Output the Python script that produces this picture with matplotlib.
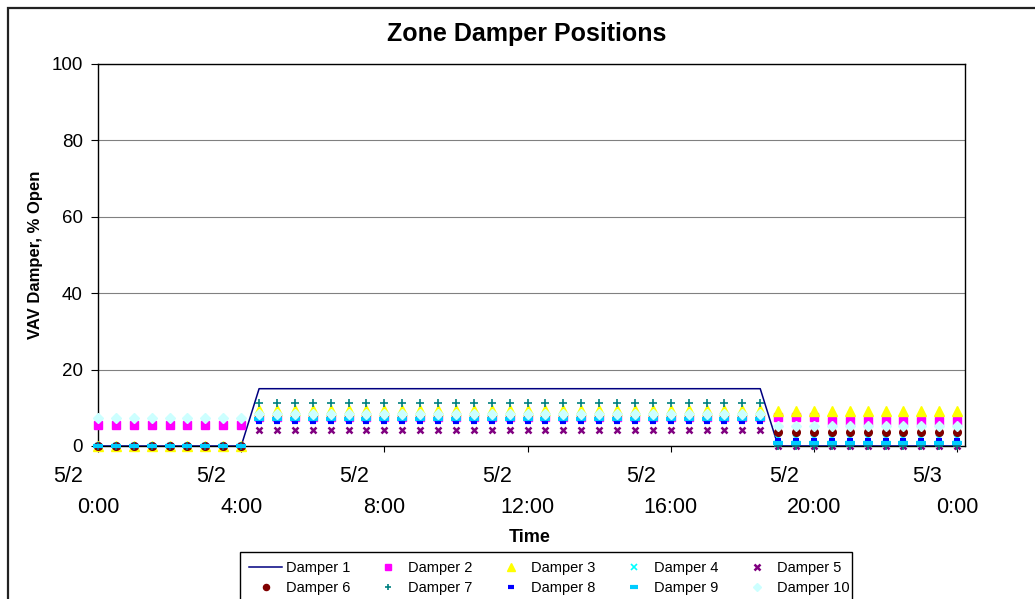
import numpy as np
import matplotlib.pyplot as plt
from matplotlib.patches import Rectangle
import matplotlib.transforms as mtransforms

plt.rcParams['font.family'] = ['Liberation Sans', 'DejaVu Sans']

# sample times, hours after 5/2 0:00 (every 30 min)
hours = [0, 0.5, 1, 1.5, 2, 2.5, 3, 3.5, 4,
         4.5, 5, 5.5, 6, 6.5, 7, 7.5, 8, 8.5, 9, 9.5, 10, 10.5, 11, 11.5,
         12, 12.5, 13, 13.5, 14, 14.5, 15, 15.5, 16, 16.5, 17, 17.5, 18, 18.5,
         19, 19.5, 20, 20.5, 21, 21.5, 22, 22.5, 23, 23.5, 24]

# readings: 9 night samples, 29 occupied samples, 11 evening samples
damper1 = [0]*9 + [15]*29 + [0]*11
damper2 = [5.6]*9 + [7.6]*29 + [7.6]*3 + [6.5]*8
damper3 = [0]*9 + [9.4]*29 + [9.2]*11
damper4 = [0]*9 + [8.0]*29 + [2.1]*11
damper5 = [0]*9 + [4.1]*29 + [0]*11
damper6 = [0]*9 + [7.5]*29 + [3.7]*11
damper7 = [0]*9 + [11.2]*29 + [0]*11
damper8 = [0]*9 + [6.4]*29 + [1.5]*11
damper9 = [0]*9 + [7.0]*29 + [0.8]*11
damper10 = [7.3]*9 + [8.5]*29 + [5.3]*11

tick_hours = [0, 4, 8, 12, 16, 20, 24]
tick_dates = ['5/2', '5/2', '5/2', '5/2', '5/2', '5/2', '5/3']
tick_times = ['0:00', '4:00', '8:00', '12:00', '16:00', '20:00', '0:00']

W, H = 1035, 599
fig = plt.figure(figsize=(W/100, H/100), dpi=100)
ax = fig.add_axes([98/W, 1-446/H, (965-98)/W, (446-64)/H])

# outer chart border
fig.patches.append(Rectangle((8/W, -0.2), 1.2, 1-8/H+0.2, transform=fig.transFigure,
                             fill=False, edgecolor='#222222', lw=1.6))

ax.plot(hours, damper1, color='#000080', lw=1.1, label='Damper 1', zorder=3)
series = [
    (damper2, 'Damper 2', dict(marker='s', color='#FF00FF', ms=5.5)),
    (damper3, 'Damper 3', dict(marker='^', color='#FFFF00', ms=6.5)),
    (damper4, 'Damper 4', dict(marker='x', color='#00FFFF', ms=5, mew=1.2)),
    (damper5, 'Damper 5', dict(marker='x', color='#800080', ms=5, mew=1.8)),
    (damper6, 'Damper 6', dict(marker='o', color='#800000', ms=5.5)),
    (damper7, 'Damper 7', dict(marker='+', color='#008080', ms=6, mew=1.2)),
    (damper8, 'Damper 8', dict(marker='_', color='#0000FF', ms=5, mew=3)),
    (damper9, 'Damper 9', dict(marker='_', color='#00CCFF', ms=6.5, mew=3)),
    (damper10, 'Damper 10', dict(marker='D', color='#CCFFFF', ms=5.5)),
]
for vals, name, st in series:
    ax.plot(hours, vals, ls='none', label=name, clip_on=False, zorder=3, **st)

ax.set_xlim(0, 24.22)
ax.set_ylim(0, 100)
ax.set_yticks([0, 20, 40, 60, 80, 100])
ax.yaxis.grid(True, color='#808080', lw=0.8)
ax.set_axisbelow(True)
ax.tick_params(axis='y', labelsize=13.5, length=5, width=0.8, pad=6)
ax.set_xticks(tick_hours)
ax.set_xticklabels(tick_times)
ax.tick_params(axis='x', labelsize=15.5, length=4, width=0.8, pad=40)
for lab in ax.get_xticklabels():
    lab.set_va('center')
for sp in ax.spines.values():
    sp.set_linewidth(1.0)
    sp.set_color('black')

# date line of each tick label, set slightly left as in the source
date_tr = mtransforms.offset_copy(ax.get_xaxis_transform(), fig=fig, x=-30, y=-31, units='dots')
for h, d in zip(tick_hours, tick_dates):
    ax.text(h, 0, d, transform=date_tr, ha='center', va='center', fontsize=15.5)

fig.text(527/W, 1-34/H, 'Zone Damper Positions', ha='center', va='center',
         fontsize=18, fontweight='bold')
fig.text(36/W, 1-255/H, 'VAV Damper, % Open', ha='center', va='center',
         rotation=90, fontsize=12, fontweight='bold')
fig.text(530/W, 1-538/H, 'Time', ha='center', va='center', fontsize=13, fontweight='bold')

# legend, filled row by row
handles, labels = ax.get_legend_handles_labels()
order = [0, 5, 1, 6, 2, 7, 3, 8, 4, 9]
fig.legend([handles[i] for i in order], [labels[i] for i in order], ncol=5,
           loc='upper left', bbox_to_anchor=(242/W, 1-554/H), frameon=False,
           borderpad=0, fontsize=10.5, handlelength=2.26, handletextpad=0.24,
           columnspacing=1.5, labelspacing=0.4, markerscale=0.8)
fig.patches.append(Rectangle((240/W, -0.1), (852-240)/W, 1-552/H+0.1,
                             transform=fig.transFigure, fill=False,
                             edgecolor='black', lw=1.0))

fig.savefig('out.png', dpi=100)
